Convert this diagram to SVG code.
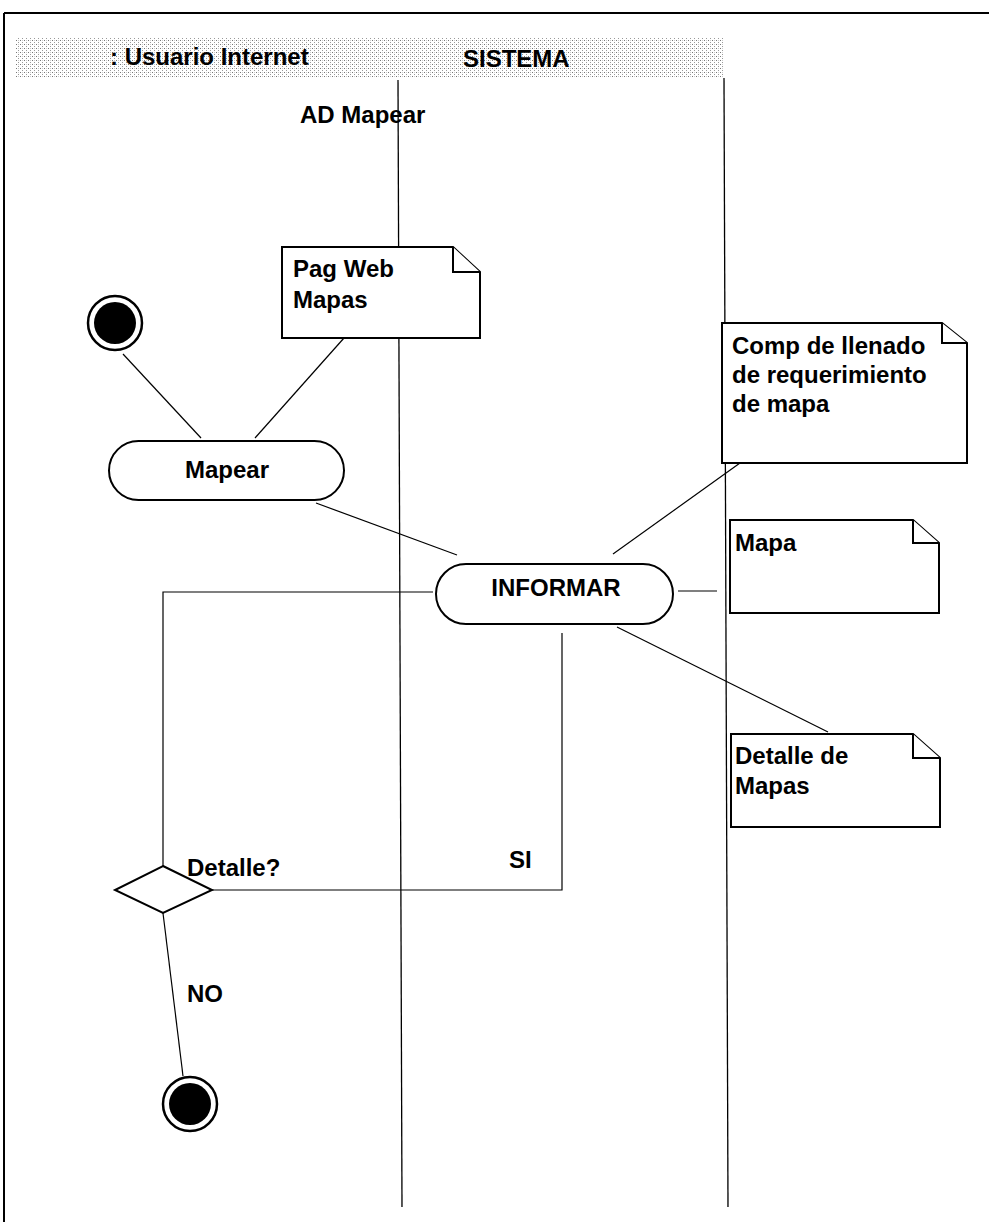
<svg xmlns="http://www.w3.org/2000/svg" width="989" height="1231" viewBox="0 0 989 1231">
<style>
  text { font-family: "Liberation Sans", Arial, sans-serif; font-weight: bold; font-size: 24px; fill: #000; }
  .frame { stroke: #000; stroke-width: 2; fill: none; }
  .lane { stroke: #000; stroke-width: 1.3; fill: none; }
  .conn { stroke: #000; stroke-width: 1.2; fill: none; }
  .note { stroke: #000; stroke-width: 2; fill: #fff; }
  .act { stroke: #000; stroke-width: 2; fill: #fff; }
</style>
<defs>
  <pattern id="halftone" width="4" height="4" patternUnits="userSpaceOnUse">
    <rect width="4" height="4" fill="#fff"/>
    <rect x="0" y="0" width="1" height="1" fill="#777"/>
    <rect x="2" y="2" width="1" height="1" fill="#999"/>
    <rect x="2" y="0" width="1" height="1" fill="#ccc"/>
  </pattern>
</defs>
<rect width="989" height="1231" fill="#fff"/>

<g id="frame">
  <line class="frame" x1="4" y1="13" x2="989" y2="13"/>
  <line class="frame" x1="4" y1="13" x2="4" y2="1222"/>
  <rect x="15" y="38" width="708" height="40" fill="url(#halftone)"/>
  <text x="110" y="65">: Usuario Internet</text>
  <text x="463" y="67">SISTEMA</text>
  <text x="300" y="123">AD Mapear</text>
</g>

<g id="lanes">
  <line class="lane" x1="398" y1="80" x2="402" y2="1207"/>
  <line class="lane" x1="724" y1="78" x2="728" y2="1207"/>
</g>

<g id="connectors">
  <line class="conn" x1="123" y1="354" x2="201" y2="438"/>
  <line class="conn" x1="344" y1="338" x2="255" y2="438"/>
  <line class="conn" x1="316" y1="503" x2="457" y2="555"/>
  <line class="conn" x1="613" y1="554" x2="740" y2="463"/>
  <line class="conn" x1="678" y1="591" x2="717" y2="591"/>
  <line class="conn" x1="617" y1="627" x2="828" y2="732"/>
  <polyline class="conn" points="433,592 163,592 163,866"/>
  <polyline class="conn" points="212,890 562,890 562,633"/>
  <line class="conn" x1="163" y1="913" x2="183" y2="1076"/>
  <text x="187" y="876">Detalle?</text>
  <text x="509" y="868">SI</text>
  <text x="187" y="1002">NO</text>
</g>

<g id="start">
  <circle cx="115" cy="323" r="27" fill="#fff" stroke="#000" stroke-width="2.5"/>
  <circle cx="115" cy="323" r="21" fill="#000"/>
</g>

<g id="note-pagweb">
  <path class="note" d="M282,247 H453 L480,272 V338 H282 Z"/>
  <path class="note" d="M453,247 V272 H480" fill="none"/>
  <text x="293" y="277">Pag Web</text>
  <text x="293" y="308">Mapas</text>
</g>

<g id="mapear">
  <rect class="act" x="109" y="441" width="235" height="59" rx="29.5" ry="29.5"/>
  <text x="227" y="478" text-anchor="middle">Mapear</text>
</g>

<g id="informar">
  <rect class="act" x="436" y="564" width="237" height="60" rx="30" ry="30"/>
  <text x="556" y="596" text-anchor="middle">INFORMAR</text>
</g>

<g id="note-comp">
  <path class="note" d="M722,323 H942 L967,343 V463 H722 Z"/>
  <path class="note" d="M942,323 V343 H967" fill="none"/>
  <text x="732" y="354">Comp de llenado</text>
  <text x="732" y="383">de requerimiento</text>
  <text x="732" y="412">de mapa</text>
</g>

<g id="note-mapa">
  <path class="note" d="M730,520 H913 L939,543 V613 H730 Z"/>
  <path class="note" d="M913,520 V543 H939" fill="none"/>
  <text x="735" y="551">Mapa</text>
</g>

<g id="note-detalle">
  <path class="note" d="M731,734 H913 L940,758 V827 H731 Z"/>
  <path class="note" d="M913,734 V758 H940" fill="none"/>
  <text x="735" y="764">Detalle de</text>
  <text x="735" y="794">Mapas</text>
</g>

<g id="decision">
  <polygon points="163,866 212,890 163,913 115,890" fill="#fff" stroke="#000" stroke-width="2"/>
</g>

<g id="end">
  <circle cx="190" cy="1104" r="27" fill="#fff" stroke="#000" stroke-width="2.5"/>
  <circle cx="190" cy="1104" r="21" fill="#000"/>
</g>
</svg>
